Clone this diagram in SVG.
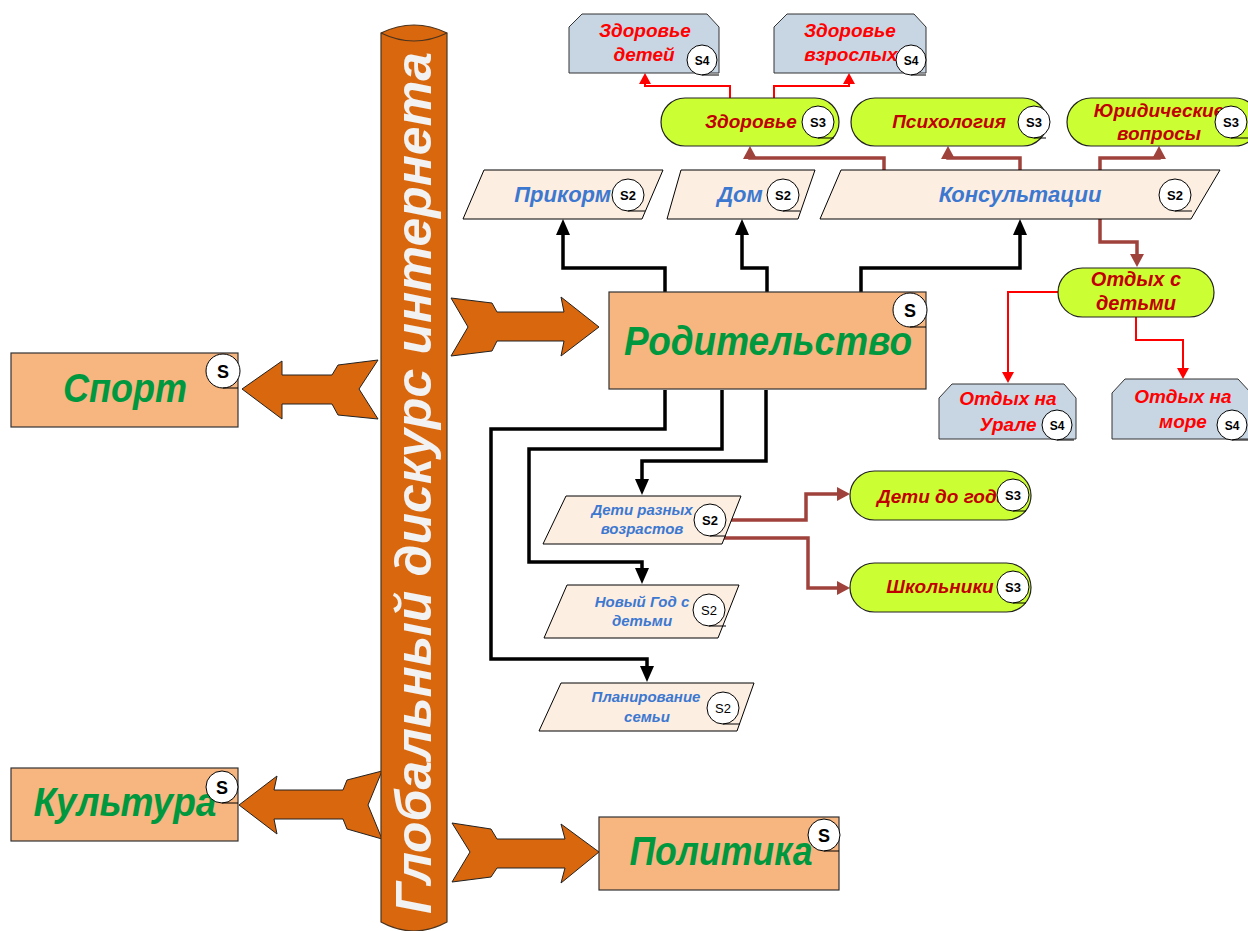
<svg xmlns="http://www.w3.org/2000/svg" width="1248" height="931" viewBox="0 0 1248 931">
<style>
text{font-family:"Liberation Sans",Arial,sans-serif;font-weight:bold;font-style:italic}
.big{fill:#F7B57F;stroke:#333;stroke-width:1.2}
.bigt{fill:#00983F;font-size:40px;text-anchor:middle}
.para{fill:#FDEEE2;stroke:#000;stroke-width:1}
.parat{fill:#3C78D0;text-anchor:middle}
.pill{fill:#CCFF33;stroke:#222;stroke-width:1.2}
.pillt{fill:#C00000;font-size:19px;text-anchor:middle}
.s4{fill:#C8D5E3;stroke:#333;stroke-width:1}
.s4t{fill:#FF0000;font-size:19px;text-anchor:middle}
.arr{fill:#D9670D;stroke:#222;stroke-width:1}
.c{fill:#fff;stroke:#000;stroke-width:1}
.ct{fill:#000;font-style:normal;text-anchor:middle;font-size:13px}
.cs{fill:#000;font-style:normal;text-anchor:middle;font-size:18px}
.tail{stroke:#000;stroke-width:1;fill:none}
.blk{stroke:#000;stroke-width:3.5;fill:none;marker-end:url(#mb)}
.brn{stroke:#A0423C;stroke-width:3.5;fill:none;marker-end:url(#mr)}
.red{stroke:#FF0000;stroke-width:2;fill:none;marker-end:url(#mred)}
</style>
<defs>
<marker id="mb" markerUnits="userSpaceOnUse" viewBox="0 0 16 14" refX="4" refY="7" markerWidth="16" markerHeight="14" orient="auto"><path d="M0,0 L16,7 L0,14 z" fill="#000"/></marker>
<marker id="mr" markerUnits="userSpaceOnUse" viewBox="0 0 13 14" refX="4" refY="7" markerWidth="13" markerHeight="14" orient="auto"><path d="M0,0 L13,7 L0,14 z" fill="#A0423C"/></marker>
<marker id="mred" markerUnits="userSpaceOnUse" viewBox="0 0 11 12" refX="3" refY="6" markerWidth="11" markerHeight="12" orient="auto"><path d="M0,0 L11,6 L0,12 z" fill="#FF0000"/></marker>
</defs>

<g id="arrows-orange">
<polygon class="arr" points="451,298 492,303 497,312 564,312 561,297 599,327 561,356 564,341 497,341 492,351 451,356 468,327"/>
<polygon class="arr" points="242,389 282,361 282,375 332,375 338,365 378,360 359,389 378,419 338,415 332,404 282,404 282,419"/>
<polygon class="arr" points="239,805 277,776 274,790 343,790 347,780 382,771 368,805 382,839 347,829 343,819 274,819 277,834"/>
<polygon class="arr" points="452,823 491,829 497,839 565,839 561,824 599,852 561,883 565,868 497,868 491,877 452,882 470,852"/>
</g>

<g id="cylinder">
<path d="M381,33 L381,922 Q414,940 447,922 L447,33 Q414,17 381,33 Z" fill="#D9670D" stroke="#4a3420" stroke-width="1.2"/>
<path d="M381,33 Q414,49 447,33" fill="none" stroke="#4a3420" stroke-width="1.2"/>
<text transform="translate(431,483) rotate(-90)" text-anchor="middle" font-size="50" fill="#F2F2F2" textLength="862" lengthAdjust="spacingAndGlyphs">Глобальный дискурс интернета</text>
</g>

<g id="connectors">
<path class="blk" d="M665,292 V268 H563 V231"/>
<path class="blk" d="M767,292 V268 H742 V231"/>
<path class="blk" d="M861,292 V268 H1020 V231"/>
<path class="blk" d="M766,390 V461 H642 V483"/>
<path class="blk" d="M722,390 V449 H529 V562 H642 V572"/>
<path class="blk" d="M665,390 V429 H491 V659 H647 V670"/>
<path class="brn" d="M884,171 V158 H750 V155"/>
<path class="brn" d="M1020,171 V158 H948 V155"/>
<path class="brn" d="M1100,171 V158 H1159 V155"/>
<path class="brn" d="M1100,219 V242 H1137 V258"/>
<path class="brn" d="M730,520 H806 V494 H841"/>
<path class="brn" d="M722,538 H808 V588 H841"/>
<path class="red" d="M730,98 V86 H645 V81"/>
<path class="red" d="M774,98 V86 H849 V81"/>
<path class="red" d="M1058,292 H1008 V375"/>
<path class="red" d="M1136,317 V340 H1183 V371"/>
</g>

<g id="roditelstvo">
<rect class="big" x="609" y="292" width="317" height="97"/>
<text class="bigt" x="768" y="355" textLength="288" lengthAdjust="spacingAndGlyphs">Родительство</text>
<circle class="c" cx="910" cy="310" r="17"/><text class="cs" x="910" y="317">S</text>
<path class="tail" d="M910,327 H926"/>
</g>

<g id="sport">
<rect class="big" x="11" y="353" width="227" height="74"/>
<text class="bigt" x="125" y="402" textLength="124" lengthAdjust="spacingAndGlyphs">Спорт</text>
<circle class="c" cx="223" cy="371" r="17"/><text class="cs" x="223" y="378">S</text>
<path class="tail" d="M223,388 H238"/>
</g>

<g id="kultura">
<rect class="big" x="11" y="768" width="227" height="73"/>
<text class="bigt" x="125" y="816" textLength="183" lengthAdjust="spacingAndGlyphs">Культура</text>
<circle class="c" cx="222" cy="787" r="16"/><text class="cs" x="222" y="794">S</text>
<path class="tail" d="M222,803 H238"/>
</g>

<g id="politika">
<rect class="big" x="599" y="817" width="240" height="73"/>
<text class="bigt" x="721" y="865" textLength="183" lengthAdjust="spacingAndGlyphs">Политика</text>
<circle class="c" cx="824" cy="835" r="16"/><text class="cs" x="824" y="842">S</text>
<path class="tail" d="M824,851 H839"/>
</g>

<g id="prikorm">
<polygon class="para" points="484,170 663,170 642,219 463,219"/>
<text class="parat" x="611" y="202" font-size="22" style="text-anchor:end">Прикорм</text>
<circle class="c" cx="628" cy="195" r="16"/><text class="ct" x="628" y="200">S2</text>
<path class="tail" d="M628,211 H645"/>
</g>

<g id="dom">
<polygon class="para" points="681,170 815,170 798,219 667,219"/>
<text class="parat" x="740" y="202" font-size="22">Дом</text>
<circle class="c" cx="783" cy="195" r="16"/><text class="ct" x="783" y="200">S2</text>
<path class="tail" d="M783,211 H800"/>
</g>

<g id="konsultacii">
<polygon class="para" points="841,170 1220,170 1191,219 820,219"/>
<text class="parat" x="1020" y="202" font-size="22">Консультации</text>
<circle class="c" cx="1175" cy="195" r="16"/><text class="ct" x="1175" y="200">S2</text>
<path class="tail" d="M1175,211 H1192"/>
</g>

<g id="deti-raznyh">
<polygon class="para" points="566,496 741,496 722,544 543,544"/>
<text class="parat" x="642" y="515" font-size="15">Дети разных</text>
<text class="parat" x="642" y="534" font-size="15">возрастов</text>
<circle class="c" cx="710" cy="520" r="16"/><text class="ct" x="710" y="525" font-size="14">S2</text>
<path class="tail" d="M710,536 H726"/>
</g>

<g id="novy-god">
<polygon class="para" points="567,585 739,585 718,638 544,638"/>
<text class="parat" x="642" y="607" font-size="15">Новый Год с</text>
<text class="parat" x="642" y="626" font-size="15">детьми</text>
<circle class="c" cx="709" cy="610" r="16"/><text class="ct" x="709" y="615" font-size="14" style="font-weight:normal">S2</text>
<path class="tail" d="M709,626 H726"/>
</g>

<g id="planirovanie">
<polygon class="para" points="561,683 754,683 737,731 539,731"/>
<text class="parat" x="646" y="702" font-size="15">Планирование</text>
<text class="parat" x="647" y="722" font-size="15">семьи</text>
<circle class="c" cx="723" cy="708" r="16"/><text class="ct" x="723" y="713" font-size="14" style="font-weight:normal">S2</text>
<path class="tail" d="M723,724 H740"/>
</g>

<g id="zdorovye">
<rect class="pill" x="661" y="98" width="178" height="48" rx="24"/>
<text class="pillt" x="751" y="128">Здоровье</text>
<circle class="c" cx="818" cy="122" r="16"/><text class="ct" x="818" y="127">S3</text>
<path class="tail" d="M818,138 H834"/>
</g>

<g id="psihologiya">
<rect class="pill" x="851" y="98" width="196" height="48" rx="24"/>
<text class="pillt" x="949" y="128">Психология</text>
<circle class="c" cx="1034" cy="122" r="16"/><text class="ct" x="1034" y="127">S3</text>
<path class="tail" d="M1034,138 H1046"/>
</g>

<g id="yuridicheskie">
<rect class="pill" x="1067" y="98" width="192" height="48" rx="24"/>
<text class="pillt" x="1159" y="117">Юридические</text>
<text class="pillt" x="1159" y="140">вопросы</text>
<circle class="c" cx="1231" cy="122" r="16"/><text class="ct" x="1231" y="127">S3</text>
<path class="tail" d="M1231,138 H1248"/>
</g>

<g id="otdyh-s-detmi">
<rect class="pill" x="1058" y="268" width="156" height="49" rx="24.5"/>
<text class="pillt" x="1136" y="286" style="font-size:20px">Отдых с</text>
<text class="pillt" x="1136" y="310" style="font-size:20px">детьми</text>
</g>

<g id="deti-do-goda">
<rect class="pill" x="850" y="471" width="181" height="49" rx="24.5"/>
<text class="pillt" x="877" y="503" style="font-size:19px;text-anchor:start">Дети до года</text>
<circle class="c" cx="1013" cy="495" r="16"/><text class="ct" x="1013" y="500">S3</text>
<path class="tail" d="M1013,511 H1026"/>
</g>

<g id="shkolniki">
<rect class="pill" x="850" y="563" width="181" height="49" rx="24.5"/>
<text class="pillt" x="940" y="593">Школьники</text>
<circle class="c" cx="1013" cy="587" r="16"/><text class="ct" x="1013" y="592">S3</text>
<path class="tail" d="M1013,603 H1026"/>
</g>

<g id="zdorovye-detey">
<polygon class="s4" points="569,27 582,14 707,14 719,27 719,73 569,73"/>
<text class="s4t" x="645" y="37">Здоровье</text>
<text class="s4t" x="644" y="61">детей</text>
<circle class="c" cx="702" cy="60" r="15"/><text class="ct" x="702" y="65" style="font-size:12px">S4</text>
<path class="tail" d="M702,75 H719"/>
</g>

<g id="zdorovye-vzroslyh">
<polygon class="s4" points="774,27 787,14 914,14 926,27 926,73 774,73"/>
<text class="s4t" x="850" y="37">Здоровье</text>
<text class="s4t" x="851" y="61">взрослых</text>
<circle class="c" cx="911" cy="60" r="15"/><text class="ct" x="911" y="65" style="font-size:12px">S4</text>
<path class="tail" d="M911,75 H926"/>
</g>

<g id="otdyh-ural">
<polygon class="s4" points="939,398 952,384 1064,384 1076,398 1076,439 939,439"/>
<text class="s4t" x="1008" y="405">Отдых на</text>
<text class="s4t" x="1008" y="431">Урале</text>
<circle class="c" cx="1057" cy="425" r="15"/><text class="ct" x="1057" y="430" style="font-size:12px">S4</text>
<path class="tail" d="M1057,440 H1074"/>
</g>

<g id="otdyh-more">
<polygon class="s4" points="1112,393 1125,379 1238,379 1251,393 1251,439 1112,439"/>
<text class="s4t" x="1183" y="403">Отдых на</text>
<text class="s4t" x="1183" y="428">море</text>
<circle class="c" cx="1232" cy="425" r="15"/><text class="ct" x="1232" y="430" style="font-size:12px">S4</text>
<path class="tail" d="M1232,440 H1248"/>
</g>
</svg>
